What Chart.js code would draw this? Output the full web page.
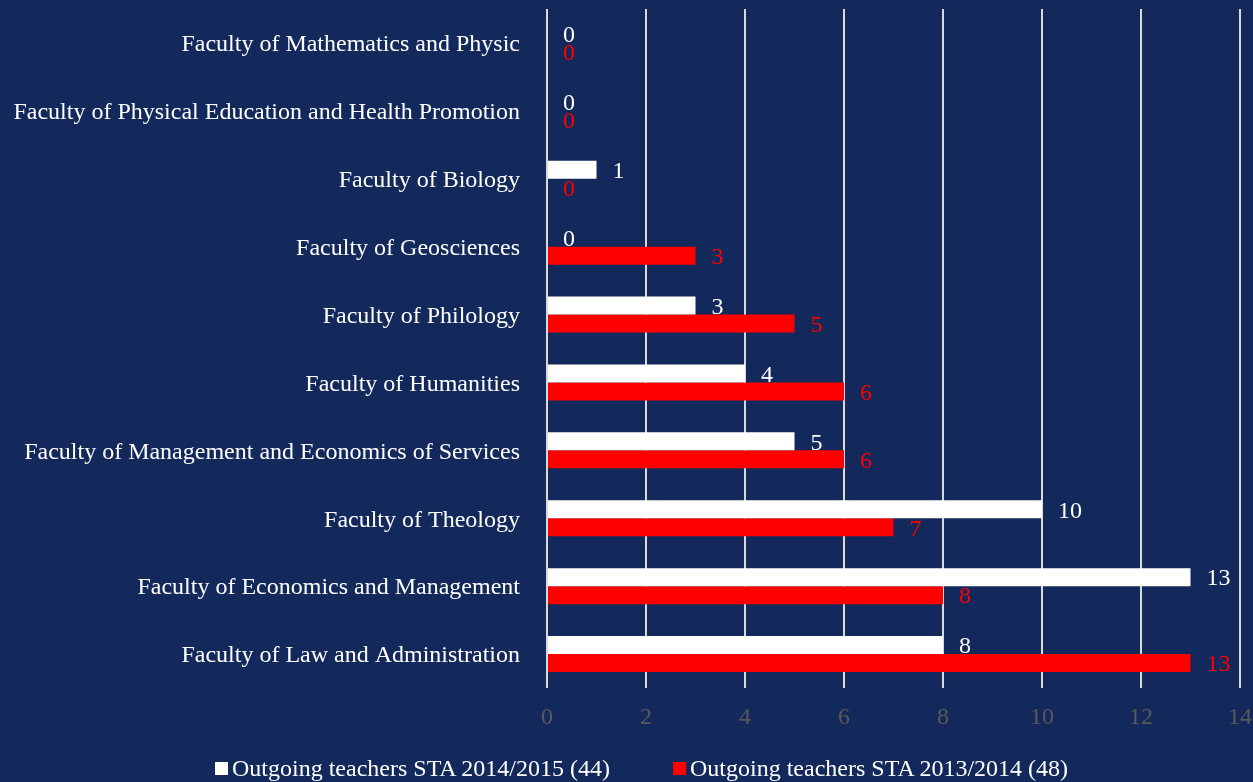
<!DOCTYPE html>
<html>
<head>
<meta charset="utf-8">
<script src="https://cdn.jsdelivr.net/npm/chart.js@4"></script>
<style>
  html, body { margin: 0; padding: 0; background: #13295B; overflow: hidden; }
  #wrap { width: 1253px; height: 782px; position: relative; }
  #legend { position: absolute; left: 215px; top: 755px; display: flex; align-items: center;
            font: 24px "Liberation Serif", "Times New Roman", serif; color: #FFFFFF; white-space: nowrap; }
  #legend .item { display: flex; align-items: center; margin-right: 63px; }
  #legend .box { width: 13px; height: 13px; margin-right: 4px; }
</style>
</head>
<body>
<div id="wrap"><canvas id="chart"></canvas><div id="legend"></div></div>
<script>
// ─── Data ───────────────────────────────────────────────────────────────────
const categories = [
  'Faculty of Mathematics and Physic',
  'Faculty of Physical Education and Health Promotion',
  'Faculty of Biology',
  'Faculty of Geosciences',
  'Faculty of Philology',
  'Faculty of Humanities',
  'Faculty of Management and Economics of Services',
  'Faculty of Theology',
  'Faculty of Economics and Management',
  'Faculty of Law and Administration'
];
const sta2014_2015 = [0, 0, 1, 0, 3, 4, 5, 10, 13, 8];
const sta2013_2014 = [0, 0, 0, 3, 5, 6, 6, 7, 8, 13];
const seriesNames = ['Outgoing teachers STA 2014/2015 (44)', 'Outgoing teachers STA 2013/2014 (48)'];
const seriesColors = ['#FFFFFF', '#FF0000'];
const xTicks = [0, 2, 4, 6, 8, 10, 12, 14];

const FONT = '"Liberation Serif", "Times New Roman", serif';

// value labels drawn right of each bar end
const valueLabels = {
  id: 'valueLabels',
  afterDatasetsDraw(chart) {
    const ctx = chart.ctx;
    const xs = chart.scales.x;
    ctx.save();
    ctx.font = '24px ' + FONT;
    ctx.textAlign = 'left';
    ctx.textBaseline = 'middle';
    chart.data.datasets.forEach((ds, di) => {
      chart.getDatasetMeta(di).data.forEach((bar, i) => {
        const v = ds.data[i];
        ctx.fillStyle = seriesColors[di];
        ctx.fillText(String(v), xs.getPixelForValue(v) + 16, bar.y + 2);
      });
    });
    ctx.restore();
  }
};

const chart = new Chart(document.getElementById('chart'), {
  type: 'bar',
  data: {
    labels: categories,
    datasets: seriesNames.map((name, i) => ({
      label: name,
      data: [sta2014_2015, sta2013_2014][i],
      backgroundColor: seriesColors[i],
      borderWidth: 0
    }))
  },
  options: {
    indexAxis: 'y',
    responsive: true,
    maintainAspectRatio: false,
    animation: false,
    layout: { padding: { top: 9, right: 13, left: 0, bottom: 0 } },
    datasets: { bar: { categoryPercentage: 0.53, barPercentage: 1 } },
    scales: {
      x: {
        min: 0, max: 14,
        afterBuildTicks: s => { s.ticks = xTicks.map(v => ({ value: v })); },
        grid: { color: '#D9D9D9', lineWidth: 2, drawTicks: false },
        border: { display: false },
        ticks: { color: '#595959', font: { family: FONT, size: 24 }, padding: 15 },
        afterFit: s => { s.height = 94; s.paddingLeft = 0; s.paddingRight = 0; }
      },
      y: {
        grid: { display: false, drawTicks: false },
        border: { display: false },
        ticks: { color: '#FFFFFF', font: { family: FONT, size: 24 }, padding: 27, autoSkip: false, labelOffset: 2 },
        afterFit: s => { s.width = 547; s.paddingTop = 0; s.paddingBottom = 0; }
      }
    },
    plugins: {
      legend: { display: false },
      tooltip: { enabled: false }
    }
  },
  plugins: [valueLabels]
});

// legend built from the chart's datasets
document.getElementById('legend').innerHTML = chart.data.datasets.map(ds =>
  `<span class="item"><span class="box" style="background:${ds.backgroundColor}"></span>${ds.label}</span>`
).join('');
</script>
</body>
</html>
